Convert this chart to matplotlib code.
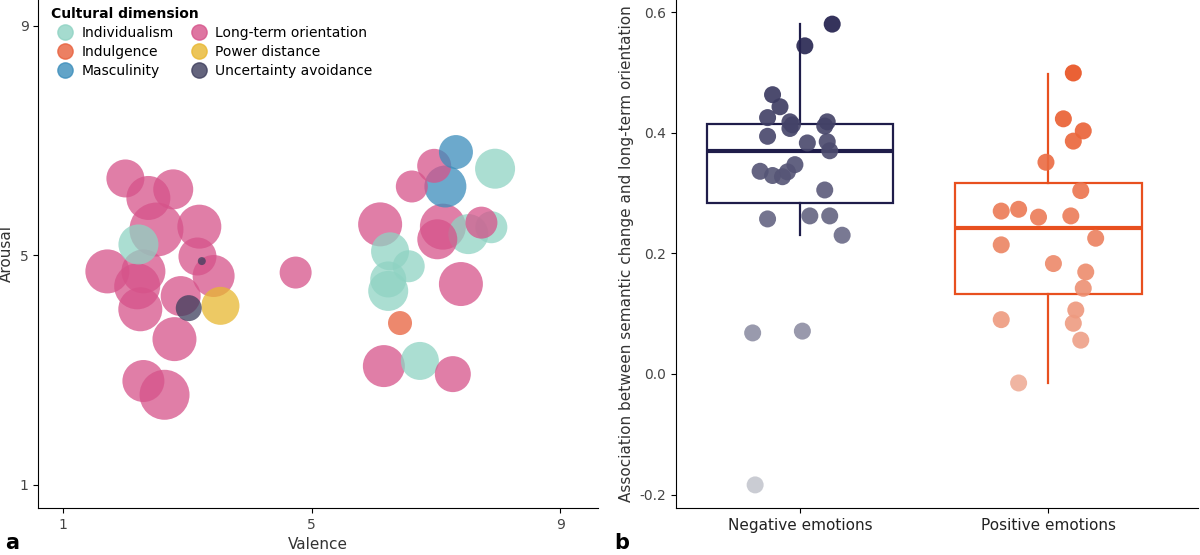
import numpy as np
import matplotlib.pyplot as plt

# panel a: bubbles (valence, arousal, radius in px, dimension)
dims = ['Individualism', 'Indulgence', 'Masculinity', 'Long-term orientation', 'Power distance', 'Uncertainty avoidance']
dim_colors = ['#8fd3c3', '#e8603c', '#3b8dbb', '#d6538a', '#e8b730', '#3d3d5c']

valence = [2.0, 2.37, 2.77, 3.19, 1.71, 2.19, 2.24, 3.16, 3.42, 2.89, 2.79, 2.29, 2.63, 2.29, 4.74,
           2.21, 3.23, 3.02, 3.53,
           7.32, 7.15, 6.97, 6.61, 7.95, 6.1, 7.11, 7.02, 7.73, 7.89, 7.52, 6.26, 6.56, 6.23, 6.23,
           7.40, 6.42, 6.16, 6.74, 7.27, 2.5]
arousal = [6.34, 6.0, 6.15, 5.5, 4.72, 4.46, 4.06, 4.98, 4.64, 4.29, 3.54, 2.81, 2.57, 4.72, 4.70,
           5.19, 4.9, 4.08, 4.12,
           6.8, 6.2, 6.56, 6.2, 6.51, 5.54, 5.5, 5.28, 5.57, 5.49, 5.37, 5.07, 4.81, 4.58, 4.38,
           4.5, 3.82, 3.07, 3.16, 2.93, 5.45]
radius = [19, 22, 20, 22, 22, 23, 22, 19, 21, 20, 22, 21, 25, 22, 16,
          20, 4, 13, 19,
          17, 21, 17, 16, 20, 22, 23, 20, 16, 16, 20, 19, 16, 18, 20,
          22, 12, 21, 19, 18, 27]
dim_idx = [3, 3, 3, 3, 3, 3, 3, 3, 3, 3, 3, 3, 3, 3, 3,
           0, 5, 5, 4,
           2, 2, 3, 3, 0, 3, 3, 3, 3, 0, 0, 0, 0, 0, 0,
           3, 1, 3, 0, 3, 3]

# panel b: associations
neg_vals = [0.580, 0.544, 0.463, 0.443, 0.425, 0.418, 0.413, 0.418, 0.411, 0.407, 0.394, 0.383, 0.385,
            0.370, 0.347, 0.336, 0.329, 0.335, 0.327, 0.305, 0.257, 0.262, 0.262, 0.230, 0.068, 0.071, -0.184]
neg_jit = [0.13, 0.02, -0.11, -0.08, -0.13, -0.04, -0.03, 0.11, 0.10, -0.04, -0.13, 0.03, 0.11,
           0.12, -0.02, -0.16, -0.11, -0.05, -0.07, 0.10, -0.13, 0.04, 0.12, 0.17, -0.19, 0.01, -0.18]
pos_vals = [0.499, 0.423, 0.403, 0.386, 0.351, 0.304, 0.270, 0.273, 0.260, 0.262, 0.214, 0.225, 0.183,
            0.169, 0.142, 0.106, 0.090, 0.084, 0.056, -0.015]
pos_jit = [0.10, 0.06, 0.14, 0.10, -0.01, 0.13, -0.19, -0.12, -0.04, 0.09, -0.19, 0.19, 0.02,
           0.15, 0.14, 0.11, -0.19, 0.10, 0.13, -0.12]
# box stats: whislo, q1, med, q3, whishi
neg_box = [0.230, 0.284, 0.370, 0.415, 0.580]
pos_box = [-0.015, 0.133, 0.242, 0.316, 0.498]
groups = ['Negative emotions', 'Positive emotions']

fig = plt.figure(figsize=(12, 5.55), dpi=100)
ax1 = fig.add_axes([0.032, 0.085, 0.466, 0.915])
ax2 = fig.add_axes([0.563, 0.085, 0.435, 0.915])

sizes = [(2 * r * 0.72) ** 2 for r in radius]
cols = [dim_colors[i] for i in dim_idx]
order = np.argsort(sizes)[::-1]
ax1.scatter(np.array(valence)[order], np.array(arousal)[order], s=np.array(sizes)[order],
            c=np.array(cols)[order], alpha=0.75, linewidths=0)
ax1.set_xlim(0.6, 9.6)
ax1.set_ylim(0.6, 9.45)
ax1.set_xticks([1, 5, 9])
ax1.set_yticks([1, 5, 9])
ax1.set_xlabel('Valence', fontsize=11, color='#333333')
ax1.set_ylabel('Arousal', fontsize=11, color='#333333')
for s in ['top', 'right']:
    ax1.spines[s].set_visible(False)
ax1.tick_params(labelsize=10, labelcolor='#444444')
handles = [plt.Line2D([], [], marker='o', ls='', ms=11, color=c, alpha=0.8) for c in dim_colors]
order_leg = [0, 1, 2, 3, 4, 5]
leg = ax1.legend(handles, dims, ncol=2, loc='upper left', bbox_to_anchor=(0.0, 1.01),
                 frameon=False, title='Cultural dimension', fontsize=10, handletextpad=0.2,
                 columnspacing=0.8, labelspacing=0.35)
leg.get_title().set_fontweight('bold')
leg._legend_box.align = 'left'

navy = '#1f1d4a'
orange = '#e8501f'
stats = []
for b in [neg_box, pos_box]:
    stats.append(dict(whislo=b[0], q1=b[1], med=b[2], q3=b[3], whishi=b[4], fliers=[]))
bp = ax2.bxp(stats, positions=[0, 1], widths=0.75, showfliers=False, showcaps=False, patch_artist=True)
for i, c in enumerate([navy, orange]):
    bp['boxes'][i].set(facecolor='none', edgecolor=c, linewidth=1.6)
    bp['medians'][i].set(color=c, linewidth=3)
    for w in bp['whiskers'][2 * i:2 * i + 2]:
        w.set(color=c, linewidth=1.6)

nv = np.array(neg_vals)
pv = np.array(pos_vals)
ax2.scatter(np.array(neg_jit), nv, s=150, c=nv, cmap=plt.matplotlib.colors.LinearSegmentedColormap.from_list('n', ['#c8cad2', navy]),
            vmin=-0.2, vmax=0.58, linewidths=0, alpha=0.9, zorder=3)
ax2.scatter(1 + np.array(pos_jit), pv, s=150, c=pv, cmap=plt.matplotlib.colors.LinearSegmentedColormap.from_list('p', ['#f0b3a0', orange]),
            vmin=-0.05, vmax=0.5, linewidths=0, alpha=0.9, zorder=3)
ax2.set_xlim(-0.5, 1.6)
ax2.set_ylim(-0.222, 0.62)
ax2.set_xticks([0, 1])
ax2.set_xticklabels(groups, fontsize=11)
ax2.set_yticks([-0.2, 0.0, 0.2, 0.4, 0.6])
ax2.set_yticklabels(['-0.2', '0.0', '0.2', '0.4', '0.6'])
ax2.set_ylabel('Association between semantic change and long-term orientation', fontsize=11, color='#333333')
for s in ['top', 'right']:
    ax2.spines[s].set_visible(False)
ax2.tick_params(labelsize=10, labelcolor='#444444')
ax2.tick_params(axis='x', labelsize=11, labelcolor='#222222')

fig.text(0.004, 0.01, 'a', fontsize=15, fontweight='bold')
fig.text(0.512, 0.01, 'b', fontsize=15, fontweight='bold')
fig.savefig('out.png', dpi=100)
